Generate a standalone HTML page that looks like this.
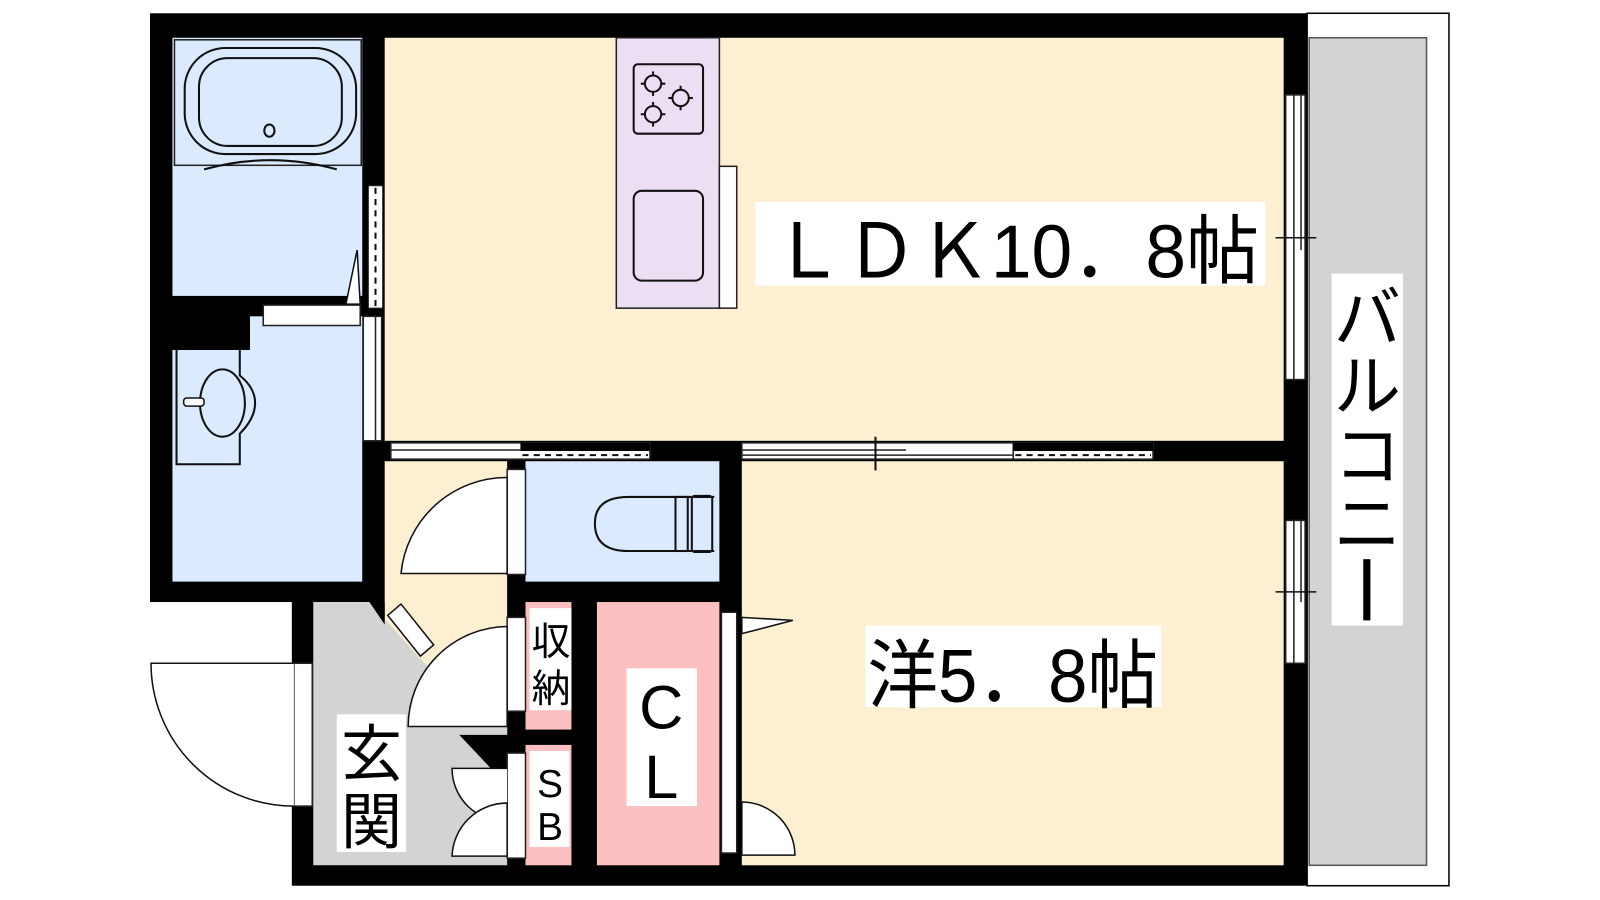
<!DOCTYPE html>
<html><head><meta charset="utf-8"><style>
html,body{margin:0;padding:0;background:#fff;width:1600px;height:900px;overflow:hidden}
svg{display:block}
text{font-family:"Liberation Sans","Noto Sans CJK JP",sans-serif;fill:#000}
</style></head><body>
<svg width="1600" height="900" viewBox="0 0 1600 900" xmlns="http://www.w3.org/2000/svg">
<g transform="scale(1.0204)">
<rect x="1281" y="13" width="139" height="855" fill="#fff" stroke="#000" stroke-width="1.5"/>
<rect x="1283" y="37" width="115" height="811" fill="#d3d3d3" stroke="#555" stroke-width="1.5"/>
<rect x="147" y="13" width="1134" height="577" fill="#000"/>
<rect x="286" y="570" width="995" height="298" fill="#000"/>
<rect x="169" y="37" width="186" height="253" fill="#dbeafe"/>
<rect x="169" y="343" width="186" height="227" fill="#dbeafe"/>
<rect x="245" y="310" width="110" height="33" fill="#dbeafe"/>
<rect x="377" y="37" width="881" height="395" fill="#fdf0d2"/>
<rect x="727" y="452" width="531" height="396" fill="#fdf0d2"/>
<rect x="377" y="452" width="120" height="138" fill="#fdf0d2"/>
<polygon points="377,590 497,590 497,720 450,720 377,620" fill="#fdf0d2"/>
<rect x="515" y="452" width="190" height="118" fill="#dbeafe"/>
<polygon points="307,590 362,590 425,660 497,700 497,720 483,720 430,720 450,720 497,770 497,848 307,848" fill="#d3d3d3"/>
<polygon points="362,590 377,590 377,612" fill="#000"/>
<rect x="515" y="590" width="45" height="125" fill="#fbbfbf"/>
<rect x="515" y="730" width="45" height="118" fill="#fbbfbf"/>
<rect x="585" y="590" width="120" height="258" fill="#fbbfbf"/>
<rect x="604" y="37" width="101" height="265" fill="#ecdff3" stroke="#222" stroke-width="1.5"/>
<rect x="705" y="163" width="17" height="139" fill="#fff" stroke="#222" stroke-width="1.5"/>
<rect x="621" y="63" width="68" height="68" rx="4" fill="none" stroke="#111" stroke-width="2"/>
<g fill="none" stroke="#111" stroke-width="2"><circle cx="640" cy="82" r="8"/><circle cx="667" cy="96" r="8"/><circle cx="640" cy="112" r="8"/>
<path d="M640,70v4M640,90v4M628,82h4M648,82h4M667,84v4M667,104v4M655,96h4M675,96h4M640,100v4M640,120v4M628,112h4M648,112h4"/></g>
<rect x="621" y="187" width="68" height="88" rx="8" fill="none" stroke="#111" stroke-width="2"/>
<rect x="171" y="39" width="183" height="123" fill="none" stroke="#222" stroke-width="1.5"/>
<rect x="181" y="47" width="168" height="104" rx="40" fill="none" stroke="#111" stroke-width="2"/>
<rect x="195" y="57" width="140" height="86" rx="28" fill="none" stroke="#111" stroke-width="2"/>
<ellipse cx="264" cy="128" rx="5" ry="6" fill="none" stroke="#111" stroke-width="2"/>
<path d="M200,166 Q265,148 330,166" fill="none" stroke="#111" stroke-width="2"/>
<rect x="258" y="299" width="95" height="20" fill="#fff" stroke="#222" stroke-width="1.5"/>
<polygon points="339,298 350,245 353,298" fill="#fff" stroke="#111" stroke-width="1.5"/>
<path d="M173,343 V455 H235 V425 Q250,410 250,395 Q250,380 235,368 V343" fill="none" stroke="#111" stroke-width="2"/>
<ellipse cx="218" cy="395" rx="22" ry="33" fill="none" stroke="#111" stroke-width="2"/>
<rect x="180" y="390" width="20" height="8" rx="3" fill="#fff" stroke="#111" stroke-width="1.5"/>
<rect x="361" y="182" width="14" height="120" fill="#fff" stroke="#222" stroke-width="1"/>
<line x1="368" y1="184" x2="368" y2="300" stroke="#111" stroke-width="2" stroke-dasharray="6,5"/>
<rect x="356" y="310" width="18" height="122" fill="#fff" stroke="#222" stroke-width="1.5"/>
<line x1="368" y1="310" x2="368" y2="432" stroke="#222" stroke-width="1.5"/>
<rect x="383" y="434" width="254" height="16" fill="#fff" stroke="#222" stroke-width="1.5"/>
<line x1="383" y1="441" x2="510" y2="441" stroke="#222" stroke-width="1.5"/>
<rect x="510" y="434" width="127" height="8" fill="#000"/>
<line x1="512" y1="446" x2="635" y2="446" stroke="#111" stroke-width="2" stroke-dasharray="6,5"/>
<rect x="727" y="434" width="403" height="16" fill="#fff" stroke="#222" stroke-width="1.5"/>
<line x1="727" y1="441" x2="888" y2="441" stroke="#222" stroke-width="1.5"/>
<line x1="727" y1="446" x2="993" y2="446" stroke="#222" stroke-width="1.5"/>
<line x1="858" y1="428" x2="858" y2="461" stroke="#111" stroke-width="2"/>
<line x1="993" y1="434" x2="993" y2="450" stroke="#222" stroke-width="1.5"/>
<rect x="993" y="434" width="137" height="8" fill="#000"/>
<line x1="995" y1="446" x2="1128" y2="446" stroke="#111" stroke-width="2" stroke-dasharray="6,5"/>
<rect x="1260" y="93" width="19" height="279" fill="#fff" stroke="#222" stroke-width="1.5"/>
<line x1="1268" y1="93" x2="1268" y2="372" stroke="#222" stroke-width="1.5"/>
<line x1="1275" y1="93" x2="1275" y2="245" stroke="#222" stroke-width="1.5"/>
<line x1="1250" y1="233" x2="1290" y2="233" stroke="#111" stroke-width="1.5"/>
<rect x="1260" y="510" width="19" height="140" fill="#fff" stroke="#222" stroke-width="1.5"/>
<line x1="1268" y1="510" x2="1268" y2="650" stroke="#222" stroke-width="1.5"/>
<line x1="1275" y1="510" x2="1275" y2="590" stroke="#222" stroke-width="1.5"/>
<line x1="1250" y1="580" x2="1290" y2="580" stroke="#111" stroke-width="1.5"/>
<rect x="497" y="460" width="18" height="103" fill="#fff" stroke="#222" stroke-width="1.5"/>
<path d="M497,468 A104,104 0 0 0 393,562 H497 Z" fill="#fff" stroke="#111" stroke-width="1.5"/>
<path d="M700,487 H616 Q583,487 583,513 Q583,540 616,540 H700" fill="none" stroke="#111" stroke-width="2"/>
<rect x="662" y="487" width="12" height="53" fill="none" stroke="#111" stroke-width="2"/>
<rect x="678" y="486" width="20" height="55" rx="3" fill="none" stroke="#111" stroke-width="2"/>
<polygon points="380,603 393,592 425,632 412,643" fill="#fff" stroke="#111" stroke-width="1.5"/>
<rect x="497" y="605" width="18" height="92" fill="#fff" stroke="#222" stroke-width="1.5"/>
<path d="M497,614 A98,98 0 0 0 400,712 H497 Z" fill="#fff" stroke="#111" stroke-width="1.5"/>
<rect x="497" y="738" width="18" height="103" fill="#fff" stroke="#222" stroke-width="1.5"/>
<path d="M497,753 H443 A52,52 0 0 0 497,805" fill="#fff" stroke="#111" stroke-width="1.5"/>
<path d="M497,787 A54,54 0 0 0 443,839 H497 Z" fill="#fff" stroke="#111" stroke-width="1.5"/>
<rect x="288" y="650" width="18" height="140" fill="#fff" stroke="#222" stroke-width="1.5"/>
<path d="M288,650 H148 A140,140 0 0 0 288,790" fill="#fff" stroke="#111" stroke-width="1.5"/>
<rect x="707" y="600" width="15" height="236" fill="#fff" stroke="#222" stroke-width="1.5"/>
<polygon points="727,605 777,608 727,621" fill="#fff" stroke="#111" stroke-width="1.5"/>
<path d="M727,786 A52,52 0 0 1 779,838 H727 Z" fill="#fff" stroke="#111" stroke-width="1.5"/>
<rect x="740" y="198" width="500" height="82" fill="#fff"/>
<text x="756" y="272" font-size="74" textLength="478" lengthAdjust="spacingAndGlyphs">ＬＤＫ10．8帖</text>
<rect x="848" y="613" width="290" height="80" fill="#fff"/>
<text x="850" y="688" font-size="74" textLength="285" lengthAdjust="spacingAndGlyphs">洋5．8帖</text>
<rect x="614" y="655" width="69" height="135" fill="#fff"/>
<text x="648" y="714" font-size="60" text-anchor="middle">C</text>
<text x="648" y="782" font-size="60" text-anchor="middle">L</text>
<rect x="330" y="700" width="68" height="135" fill="#fff"/>
<text x="364" y="760" font-size="60" text-anchor="middle">玄</text>
<text x="364" y="826" font-size="60" text-anchor="middle">関</text>
<rect x="519" y="596" width="41" height="100" fill="#fff"/>
<text x="540" y="642" font-size="38" text-anchor="middle">収</text>
<text x="540" y="688" font-size="38" text-anchor="middle">納</text>
<rect x="519" y="736" width="39" height="94" fill="#fff"/>
<text x="539" y="781" font-size="38" text-anchor="middle">S</text>
<text x="539" y="823" font-size="38" text-anchor="middle">B</text>
<rect x="1305" y="268" width="70" height="345" fill="#fff"/>
<text x="1340" y="335" font-size="66" text-anchor="middle">バ</text>
<text x="1340" y="402" font-size="66" text-anchor="middle">ル</text>
<text x="1340" y="470" font-size="66" text-anchor="middle">コ</text>
<text x="1340" y="537" font-size="66" text-anchor="middle">ニ</text>
<rect x="1336" y="548" width="7" height="60" fill="#000"/>
</g>
</svg>
</body></html>
